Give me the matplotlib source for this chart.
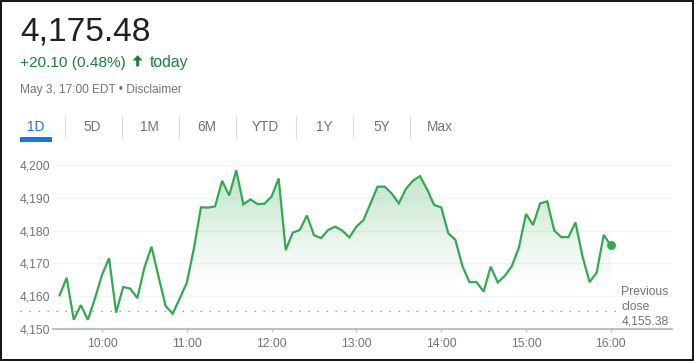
import numpy as np
import matplotlib
matplotlib.use("Agg")
import matplotlib.pyplot as plt
from matplotlib.patches import Rectangle, Polygon
from matplotlib.transforms import blended_transform_factory

plt.rcParams['font.family'] = ['Liberation Sans', 'DejaVu Sans']

# ---------------- data ----------------
start_time = "09:30"
step_minutes = 5
prices = [
    4160.3, 4165.6, 4152.8, 4157.3, 4152.8, 4159.3, 4166.5, 4171.6, 4155.0, 4162.8,
    4162.3, 4159.4, 4168.7, 4175.1, 4166.0, 4157.0, 4154.7, 4159.3, 4164.1, 4174.5,
    4187.1, 4187.0, 4187.4, 4195.2, 4190.7, 4198.4, 4188.0, 4189.5, 4188.1, 4188.2,
    4190.4, 4195.9, 4174.1, 4179.4, 4180.2, 4184.6, 4178.6, 4177.7, 4180.2, 4181.2,
    4180.0, 4177.9, 4181.2, 4183.2, 4188.3, 4193.4, 4193.4, 4191.3, 4188.3, 4192.7,
    4195.2, 4196.6, 4192.6, 4187.8, 4187.1, 4179.2, 4177.2, 4169.2, 4164.3, 4164.3,
    4161.4, 4169.0, 4164.2, 4166.2, 4169.2, 4174.9, 4185.1, 4181.7, 4188.3, 4188.9,
    4180.0, 4178.0, 4178.0, 4182.5, 4172.1, 4164.3, 4167.2, 4178.7, 4175.48,
]
previous_close = 4155.38
y_ticks = [4150, 4160, 4170, 4180, 4190, 4200]
y_tick_labels = ["4,150", "4,160", "4,170", "4,180", "4,190", "4,200"]
x_tick_labels = ["10:00", "11:00", "12:00", "13:00", "14:00", "15:00", "16:00"]
tabs = ["1D", "5D", "1M", "6M", "YTD", "1Y", "5Y", "Max"]
headline = "4,175.48"
change_text = "+20.10 (0.48%)"
date_text = "May 3, 17:00 EDT \u2022 Disclaimer"


def to_minutes(s):
    h, m = s.split(":")
    return int(h) * 60 + int(m)


t0 = to_minutes(start_time)
minutes = t0 + step_minutes * np.arange(len(prices))
x_ticks = [to_minutes(s) for s in x_tick_labels]

# ---------------- figure ----------------
W, H = 694, 361
fig = plt.figure(figsize=(W / 100, H / 100), dpi=100)
fig.patch.set_facecolor("white")


def fx(px):
    return px / W


def fy(py):
    return 1 - py / H


GREY = "#70757a"
GREEN_TXT = "#188038"
LINE_GREEN = "#34a853"
BLUE = "#1a73e8"

# axes placement (pixels)
ax_left, ax_right, ax_top, ax_bottom = 52.7, 671.7, 165.0, 329.0
ax = fig.add_axes([fx(ax_left), fy(ax_bottom), fx(ax_right - ax_left), (ax_bottom - ax_top) / H])
px_per_min = 84.8 / 60.0
x0_px = 59.6
xlim = (t0 - (x0_px - ax_left) / px_per_min, t0 + (ax_right - x0_px) / px_per_min)
ax.set_facecolor("none")

for s in ["top", "right", "left"]:
    ax.spines[s].set_visible(False)
ax.spines["bottom"].set_color("#bdc1c6")
ax.spines["bottom"].set_linewidth(1.6)

ax.set_yticks(y_ticks)
ax.set_yticklabels(y_tick_labels)
ax.tick_params(axis="y", length=0, pad=(ax_left - 20) * 0.72, labelsize=8.7, labelcolor=GREY)
for lbl in ax.get_yticklabels():
    lbl.set_horizontalalignment("left")

ax.set_xticks(x_ticks)
ax.set_xticklabels(x_tick_labels)
ax.tick_params(axis="x", length=2.5, width=1, color="#bdc1c6", pad=3.8, labelsize=8.7, labelcolor=GREY)

for v in y_ticks[1:]:
    ax.axhline(v, color="#f1f3f4", lw=0.9, zorder=0)

# gradient fill under the line
poly = ax.fill_between(minutes, prices, 4150, color="none", lw=0)
clip_path = poly.get_paths()[0]
vals = np.linspace(4150, 4200, 400)
alpha = 0.30 * np.clip((vals - 4164.0) / (4198.0 - 4164.0), 0, 1)
img = np.zeros((len(vals), 1, 4))
img[:, 0, 0] = 52 / 255
img[:, 0, 1] = 168 / 255
img[:, 0, 2] = 83 / 255
img[:, 0, 3] = alpha
im = ax.imshow(img, extent=[minutes[0], minutes[-1], 4150, 4200], origin="lower",
               aspect="auto", zorder=1, interpolation="bilinear")
im.set_clip_path(clip_path, transform=ax.transData)
ax.set_xlim(*xlim)
ax.set_ylim(4150, 4200)

ax.plot(minutes, prices, color=LINE_GREEN, lw=1.6, zorder=3, solid_joinstyle="miter")
ax.plot([minutes[-1]], [prices[-1]], "o", color=LINE_GREEN, ms=5.4, zorder=4)

# previous close dotted line
btf = blended_transform_factory(fig.transFigure, ax.transData)
ax.plot([fx(20), fx(617)], [previous_close, previous_close], transform=btf, clip_on=False,
        color="#80868b", lw=0.9, linestyle=(0, (1, 6.2)), zorder=2)

fig.text(fx(621.5), fy(291.7), "Previous", color=GREY, fontsize=8.7, va="center", ha="left")
fig.text(fx(621.5), fy(306.7), "close", color=GREY, fontsize=8.7, va="center", ha="left")
fig.text(fx(621.5), fy(321.5), f"{previous_close:,.2f}", color=GREY, fontsize=8.7,
         va="center", ha="left")

# ---------------- header ----------------
fig.text(fx(20), fy(40.7), headline, color="#202124", fontsize=24.1, va="baseline", ha="left")
fig.text(fx(20.3), fy(66.7), change_text, color=GREEN_TXT, fontsize=11.1, va="baseline", ha="left")
# up arrow
ax_c = 137.6
arrow = [(ax_c - 5.0, 60.5), (ax_c, 55.2), (ax_c + 5.0, 60.5), (ax_c + 1.4, 60.5),
         (ax_c + 1.4, 66.5), (ax_c - 1.4, 66.5), (ax_c - 1.4, 60.5)]
fig.patches.append(Polygon([(fx(a), fy(b)) for a, b in arrow], closed=True,
                           transform=fig.transFigure, facecolor=GREEN_TXT, edgecolor="none"))
fig.text(fx(149.3), fy(66.7), "today", color=GREEN_TXT, fontsize=11.3, va="baseline", ha="left")

fig.text(fx(20), fy(92.7), date_text, color=GREY, fontsize=8.6, va="baseline", ha="left")

# tabs
tab_centers = [36, 92.5, 149.5, 206.5, 265.5, 324, 381.5, 440]
sep_x = [64.5, 121.7, 178.5, 236, 296, 353.3, 410.3]
for name, cx in zip(tabs, tab_centers):
    fig.text(fx(cx), fy(127), name, color=BLUE if name == "1D" else GREY, fontsize=9.8,
             va="center", ha="center")
for sx in sep_x:
    fig.add_artist(plt.Line2D([fx(sx), fx(sx)], [fy(116), fy(137.5)], transform=fig.transFigure,
                              color="#dadce0", lw=0.8))
fig.patches.append(Rectangle((fx(20.3), fy(141.7)), fx(31.5), 4.3 / H, transform=fig.transFigure,
                             facecolor=BLUE, edgecolor="none"))

# outer black frame
fig.patches.append(Rectangle((fx(0.8), fy(H - 0.8)), fx(W - 1.6), (H - 1.6) / H,
                             transform=fig.transFigure, facecolor="none", edgecolor="black", lw=1.3))

fig.savefig("out.png", dpi=100, facecolor="white")
